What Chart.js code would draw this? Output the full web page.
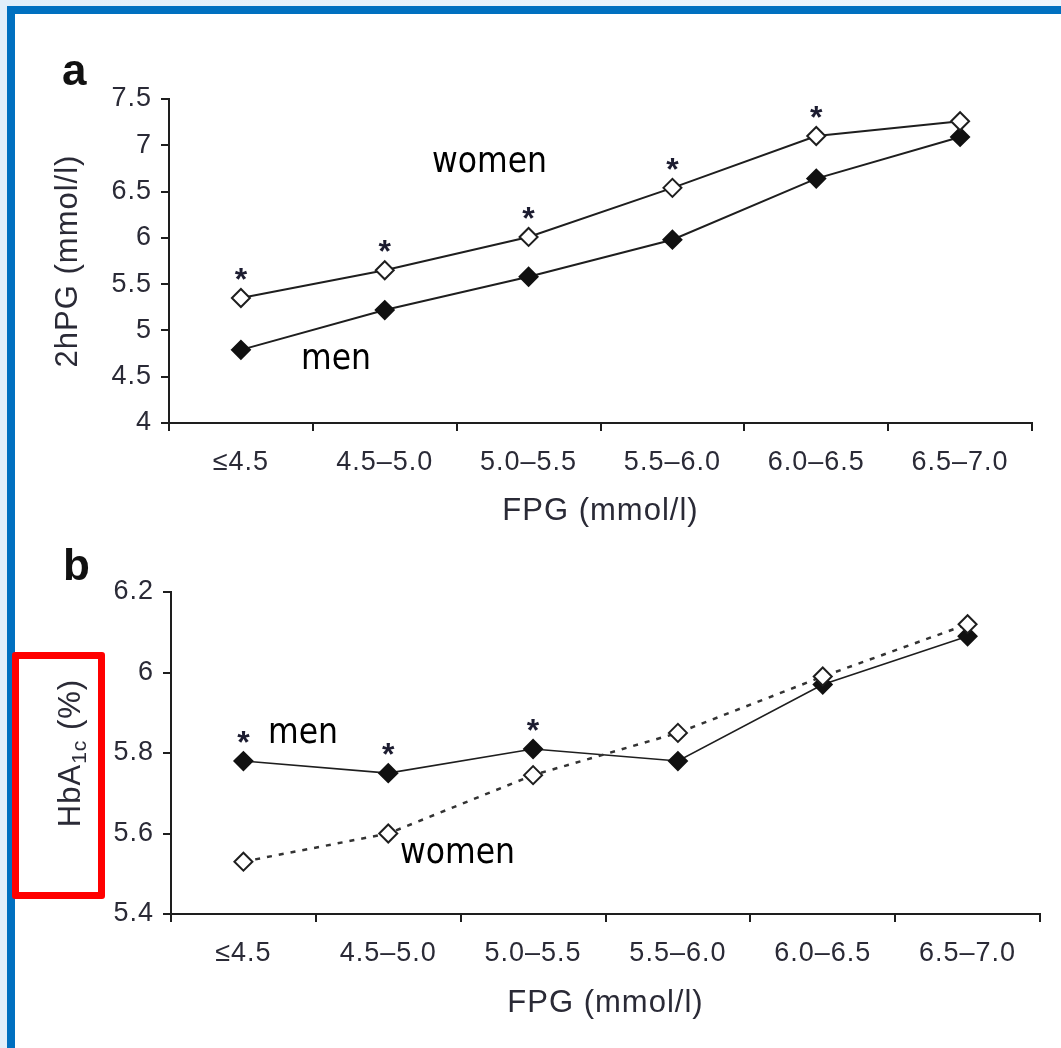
<!DOCTYPE html>
<html>
<head>
<meta charset="utf-8">
<script src="https://cdn.jsdelivr.net/npm/chart.js@4.4.1/dist/chart.umd.min.js"></script>
<style>
  html, body { margin: 0; padding: 0; }
  body { width: 1061px; height: 1048px; position: relative; overflow: hidden;
         background: linear-gradient(90deg, #e2effa, #eef6fd); }
  #frame { position: absolute; left: 7px; top: 6px; width: 1070px; height: 1060px;
           border-left: 8px solid #0070c0; border-top: 8px solid #0070c0; background: #fff; }
  canvas { position: absolute; left: 0; filter: blur(0.35px); }
  #panel-a { top: 0; }
  #panel-b { top: 530px; }
  #red-box { position: absolute; left: 12px; top: 652px; width: 79px; height: 233px;
             border: 7px solid #ff0000; border-radius: 3px; }
</style>
</head>
<body>
<div id="frame"></div>
<canvas id="panel-a" width="1061" height="530"></canvas>
<canvas id="panel-b" width="1061" height="518"></canvas>
<div id="red-box"></div>
<script>
// FPG bands shared by both panels
const fpgBands = ['≤4.5', '4.5–5.0', '5.0–5.5', '5.5–6.0', '6.0–6.5', '6.5–7.0'];

// panel a: 2hPG (mmol/l)
const pgWomen = [5.35, 5.65, 6.01, 6.54, 7.10, 7.26];
const pgMen = [4.79, 5.22, 5.58, 5.98, 6.64, 7.09];
const pgStarIdx = [0, 1, 2, 3, 4];
const pgTicks = [4, 4.5, 5, 5.5, 6, 6.5, 7, 7.5];

// panel b: HbA1c (%)
const a1cWomen = [5.53, 5.60, 5.745, 5.85, 5.99, 6.12];
const a1cMen = [5.78, 5.75, 5.81, 5.78, 5.97, 6.09];
const a1cStarIdx = [0, 1, 2];
const a1cTicks = [5.4, 5.6, 5.8, 6, 6.2];

const SANS = '"Liberation Sans", Arial, Helvetica, sans-serif';
const LABEL_FONT = '35px "DejaVu Sans Condensed", "DejaVu Sans", sans-serif';
const INK = '#1e1e1e';

Chart.defaults.font.family = SANS;
Chart.defaults.color = '#2a2a36';

// panel letter, significance stars, series names and optional custom y title
function extrasPlugin(opts) {
  return {
    id: 'extras',
    beforeDraw(chart) {
      chart.ctx.letterSpacing = '1px';
    },
    afterDraw(chart) {
      const ctx = chart.ctx;
      ctx.save();
      ctx.letterSpacing = '0px';
      ctx.textBaseline = 'alphabetic';

      ctx.fillStyle = '#111';
      ctx.textAlign = 'left';
      ctx.font = 'bold 44px ' + SANS;
      ctx.fillText(opts.letter, opts.letterX, opts.letterY);

      const meta = chart.getDatasetMeta(opts.starDataset);
      ctx.font = 'bold 32px ' + SANS;
      ctx.fillStyle = '#1c1c30';
      ctx.textAlign = 'center';
      opts.stars.forEach(i => {
        const p = meta.data[i];
        ctx.fillText('*', p.x, p.y - 26 + 18);
      });

      ctx.font = LABEL_FONT;
      ctx.fillStyle = '#000';
      ctx.textAlign = 'left';
      opts.labels.forEach(l => ctx.fillText(l.text, l.x, l.y));

      if (opts.yTitle) opts.yTitle(ctx, chart);
      ctx.restore();
    }
  };
}

function scalesFor(yTicks, canvasH, area, yTitle) {
  return {
    x: {
      type: 'category',
      offset: true,
      grid: { offset: true, drawOnChartArea: false, tickLength: 8, color: INK, lineWidth: 2 },
      border: { display: true, color: INK, width: 2 },
      ticks: { font: { size: 27 }, padding: 15, maxRotation: 0, autoSkip: false },
      title: { display: true, text: 'FPG (mmol/l)', font: { size: 31 }, padding: { top: 0, bottom: 0 } },
      afterFit(s) { s.height = canvasH - area.padBottom - area.bottom; }
    },
    y: {
      min: yTicks[0],
      max: yTicks[yTicks.length - 1],
      afterBuildTicks(s) { s.ticks = yTicks.map(v => ({ value: v })); },
      grid: { drawOnChartArea: false, tickLength: 8, color: INK, lineWidth: 2 },
      border: { display: true, color: INK, width: 2 },
      ticks: { font: { size: 27 }, padding: 9, callback: v => String(v) },
      title: yTitle
        ? { display: true, text: yTitle, font: { size: 31 }, padding: { top: 2, bottom: 0 } }
        : { display: false },
      afterFit(s) { s.width = area.left - 48; }
    }
  };
}

function series(label, values, filled, extra) {
  return Object.assign({
    label,
    data: values,
    borderColor: INK,
    borderWidth: 2,
    backgroundColor: filled ? '#111' : '#fff',
    pointBorderColor: filled ? '#111' : INK,
    pointStyle: 'rectRot',
    pointRadius: 9,
    pointBorderWidth: 2,
    tension: 0
  }, extra || {});
}

const baseOptions = {
  responsive: false,
  animation: false,
  devicePixelRatio: 1,
  plugins: { legend: { display: false }, tooltip: { enabled: false } }
};

// panel a
const areaA = { left: 169, right: 1032, top: 99, bottom: 423, padBottom: 0 };
new Chart(document.getElementById('panel-a'), {
  type: 'line',
  data: {
    labels: fpgBands,
    datasets: [
      series('women', pgWomen, false),
      series('men', pgMen, true)
    ]
  },
  options: Object.assign({}, baseOptions, {
    layout: { padding: { left: 48, right: 1061 - areaA.right, top: areaA.top, bottom: areaA.padBottom } },
    scales: scalesFor(pgTicks, 530, areaA, '2hPG (mmol/l)')
  }),
  plugins: [extrasPlugin({
    letter: 'a', letterX: 62, letterY: 85,
    starDataset: 0, stars: pgStarIdx,
    labels: [{ text: 'women', x: 432, y: 172 }, { text: 'men', x: 301, y: 369 }]
  })]
});

// panel b (women drawn on top of men)
const areaB = { left: 171, right: 1040, top: 62, bottom: 384, padBottom: 26 };
new Chart(document.getElementById('panel-b'), {
  type: 'line',
  data: {
    labels: fpgBands,
    datasets: [
      series('women', a1cWomen, false, { borderDash: [5, 7], borderWidth: 2.5, borderColor: '#333' }),
      series('men', a1cMen, true, { borderWidth: 1.6 })
    ]
  },
  options: Object.assign({}, baseOptions, {
    layout: { padding: { left: 48, right: 1061 - areaB.right, top: areaB.top, bottom: areaB.padBottom } },
    scales: scalesFor(a1cTicks, 518, areaB, null)
  }),
  plugins: [extrasPlugin({
    letter: 'b', letterX: 63, letterY: 50,
    starDataset: 1, stars: a1cStarIdx,
    labels: [{ text: 'men', x: 268, y: 213 }, { text: 'women', x: 400, y: 333 }],
    // rotated "HbA1c (%)" with subscripted 1c
    yTitle(ctx, chart) {
      const cy = (chart.chartArea.top + chart.chartArea.bottom) / 2;
      const big = '31px ' + SANS, small = '21px ' + SANS;
      const parts = [['HbA', big, 0], ['1c', small, 6], [' (%)', big, 0]];
      ctx.letterSpacing = '1px';
      let total = 0;
      parts.forEach(p => { ctx.font = p[1]; total += ctx.measureText(p[0]).width; });
      ctx.translate(80, cy);
      ctx.rotate(-Math.PI / 2);
      ctx.fillStyle = '#2a2a36';
      ctx.textAlign = 'left';
      let x = -total / 2;
      parts.forEach(p => {
        ctx.font = p[1];
        ctx.fillText(p[0], x, p[2]);
        x += ctx.measureText(p[0]).width;
      });
    }
  })]
});
</script>
</body>
</html>
